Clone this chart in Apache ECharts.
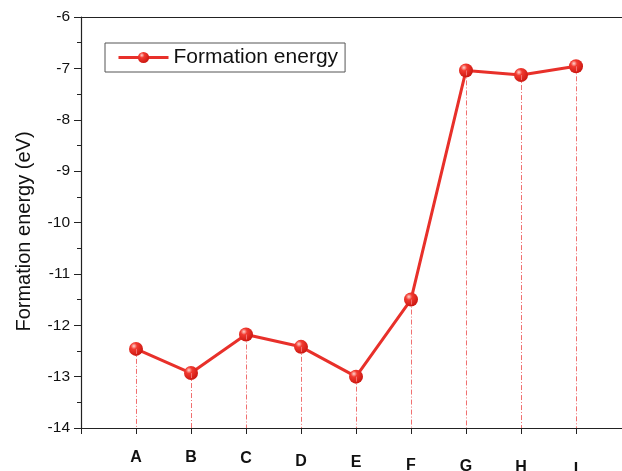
<!DOCTYPE html>
<html>
<head>
<meta charset="utf-8">
<script src="https://cdn.jsdelivr.net/npm/echarts@6/dist/echarts.min.js"></script>
<style>
  html, body { margin: 0; padding: 0; background: #fff; }
  #main { width: 622px; height: 471px; }
</style>
</head>
<body>
<div id="main"></div>
<script>
  // blank slots at both ends so A sits one step in from the y axis
  var categories = ['', 'A', 'B', 'C', 'D', 'E', 'F', 'G', 'H', 'I', ''];
  var energy = [null, -12.46, -12.93, -12.18, -12.42, -13.0, -11.5, -7.04, -7.13, -6.96, null];
  // labels in the picture step down a little from left to right
  var labelDrop = [0, 0, 0, 1, 4, 5, 8, 9, 10, 12, 0];

  var myChart = echarts.init(document.getElementById('main'));

  var catData = [];
  for (var i = 0; i < categories.length; i++) {
    catData.push({ value: categories[i], textStyle: { padding: [labelDrop[i], 0, 0, 0] } });
  }

  var drops = [];
  for (var j = 0; j < energy.length; j++) {
    if (energy[j] == null) continue;
    drops.push([{ coord: [j, energy[j]] }, { coord: [j, -14] }]);
  }

  var ball = new echarts.graphic.RadialGradient(0.35, 0.3, 0.75, [
    { offset: 0, color: '#ffd6d0' },
    { offset: 0.3, color: '#f23a30' },
    { offset: 1, color: '#c8140e' }
  ]);

  var option = {
    animation: false,
    grid: { left: 81, top: 17, right: -9, bottom: 43, outerBoundsMode: 'none', containLabel: false },
    legend: {
      left: 105,
      top: 43,
      padding: [4, 7, 4, 12],
      itemWidth: 50,
      itemHeight: 14,
      itemGap: 6,
      borderColor: '#555',
      borderWidth: 1,
      data: ['Formation energy'],
      lineStyle: { width: 3 },
      textStyle: { fontFamily: 'Liberation Sans', fontSize: 21, color: '#111' }
    },
    xAxis: [{
      type: 'category',
      boundaryGap: false,
      data: catData,
      axisLine: { lineStyle: { color: '#222', width: 1.2 } },
      axisTick: { show: true, inside: false, length: 6, interval: 0, lineStyle: { color: '#222' } },
      axisLabel: {
        interval: 0,
        margin: 22,
        color: '#111',
        fontFamily: 'Liberation Sans',
        fontWeight: 'bold',
        fontSize: 16
      },
      splitLine: { show: false }
    }, {
      type: 'category',
      position: 'top',
      boundaryGap: false,
      data: categories,
      axisLine: { lineStyle: { color: '#222', width: 1.2 } },
      axisTick: { show: false },
      axisLabel: { show: false }
    }],
    yAxis: {
      type: 'value',
      min: -14,
      max: -6,
      interval: 1,
      name: 'Formation energy (eV)',
      nameLocation: 'middle',
      nameGap: 47,
      nameTextStyle: { fontFamily: 'Liberation Sans', fontSize: 20, color: '#111', padding: [0, 18, 0, 0] },
      axisLine: { show: true, lineStyle: { color: '#222', width: 1.2 } },
      axisTick: { show: true, inside: false, length: 7, lineStyle: { color: '#222' } },
      minorTick: { show: true, splitNumber: 2, length: 4, lineStyle: { color: '#222' } },
      axisLabel: { fontFamily: 'Liberation Sans', fontSize: 15.5, color: '#111', margin: 11 },
      splitLine: { show: false }
    },
    series: [{
      name: 'Formation energy',
      type: 'line',
      data: energy,
      connectNulls: false,
      symbol: 'circle',
      symbolSize: 14,
      lineStyle: { color: '#e8302a', width: 3 },
      itemStyle: { color: ball, borderWidth: 0 },
      markLine: {
        silent: true,
        symbol: 'none',
        label: { show: false },
        lineStyle: { color: '#f07070', width: 1, type: [5, 2, 1, 2] },
        data: drops
      }
    }]
  };

  myChart.setOption(option);
</script>
</body>
</html>
